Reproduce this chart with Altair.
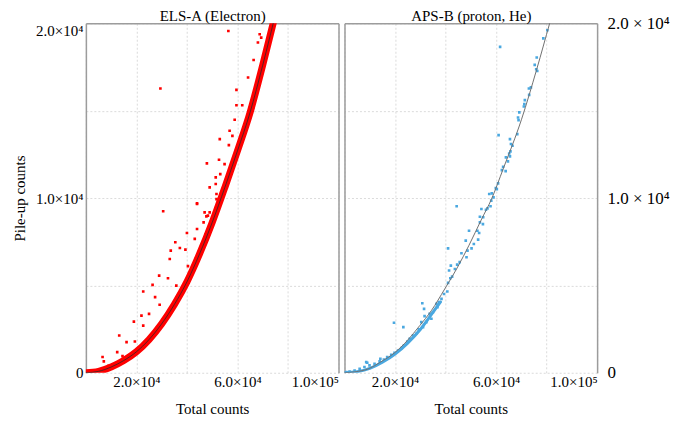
import altair as alt
import pandas as pd

FONT = "Liberation Serif"

# ---------------- axis ticks / labels ----------------
x_tick_values = [0, 20000, 40000, 60000, 80000, 100000]
x_tick_text = ["", "2.0×10⁴", "", "6.0×10⁴", "", "1.0×10⁵"]
y_tick_values = [0, 5000, 10000, 15000, 20000]
y_tick_text_left = ["0", "", "1.0×10⁴", "", "2.0×10⁴"]
y_tick_text_right = ["0", "", "1.0 × 10⁴", "", "2.0 × 10⁴"]

panel_titles = ["ELS-A (Electron)", "APS-B (proton, He)"]
x_title = "Total counts"
y_title = "Pile-up counts"

# ---------------- ELS-A (Electron) ----------------
els_curve_x = [0, 5000, 10000, 15000, 20000, 25000, 30000, 35000, 40000, 45000,
               50000, 55000, 60000, 65000, 70000, 75000, 78000]
els_curve_y = [0, 80, 330, 700, 1200, 1900, 2800, 3900, 5200, 6800,
               8600, 10600, 12700, 14900, 17600, 20500, 22300]

els_pts_x = [56400, 29500, 30600, 44000, 35400, 33600, 33200, 37200, 39400, 29000,
             32500, 26400, 27400, 22700, 22000, 25000, 19000, 22700, 13200, 16100,
             19400, 6600, 7100, 12400, 14500, 40000, 44000, 43100, 47700, 46600,
             49000, 51400, 51700, 40400, 29200, 35800, 66400, 68800, 68100, 69400,
             64200, 59600, 59600, 61900, 58900, 56900, 58000, 53000, 56600, 52700,
             47900, 54900, 51400, 53200, 44000, 49000, 51700, 47000, 48300,
             9000, 12000, 15500, 17500, 21000, 23500, 26000, 28000, 30500, 33000,
             35500, 37500, 39500, 41500, 43500, 45500, 47500, 49500, 51500, 53500,
             55500, 57500, 59500, 61500, 63500, 65500, 67500, 69500, 71500, 73000]
els_pts_y = [19560, 16270, 9240, 9700, 7470, 6990, 6510, 7140, 7050, 5560,
             5410, 5030, 4330, 4650, 3270, 3370, 2930, 2700, 2130, 1750,
             1790, 900, 650, 1180, 950, 8000, 8230, 7660, 8950, 8610,
             9180, 10800, 10230, 6100, 3890, 4990, 17900, 19370, 18900, 19180,
             16900, 16190, 15310, 15310, 14480, 13850, 13560, 13370, 13030, 12190,
             11980, 11940, 11180, 11370, 9660, 10610, 9940, 9180, 8990,
             400, 560, 840, 1030, 1430, 1790, 2180, 2540, 3030, 3600,
             4200, 4720, 5240, 5860, 6500, 7190, 7920, 8640, 9420, 10230,
             11030, 11880, 12720, 13600, 14480, 15400, 16500, 17580, 18750, 19620]

# ---------------- APS-B (proton, He) ----------------
aps_fit_x = [0, 4000, 9900, 14000, 19800, 24900, 29800, 34400, 39700, 44600,
             49300, 54300, 58200, 62800, 70100, 76100, 81300, 84000]
aps_fit_y = [0, 50, 250, 590, 1140, 1850, 2700, 3560, 4800, 6000,
             7300, 8800, 9940, 11660, 14510, 17370, 20040, 21400]

aps_band_x = [0, 5000, 10000, 15000, 20000, 25000, 30000, 35000, 38000]
aps_band_y = [0, 60, 250, 600, 1070, 1700, 2480, 3450, 4050]

aps_pts_x = [80300, 78700, 61600, 76100, 75300, 75900, 76300, 73000, 73800, 73100,
             71400, 71200, 71000, 69200, 68700, 68900, 61000, 68400, 65500, 65900,
             66500, 65700, 65200, 63900, 65500, 64700, 62800, 62300, 63800, 60800,
             59900, 60300, 57300, 58300, 59000, 44400, 58100, 56600, 57800, 54200,
             56000, 53600, 54900, 53600, 54800, 52600, 53300, 49300, 48000, 52900,
             51200, 50300, 48700, 41000, 46300, 48300, 45600, 44600, 42100, 43700,
             41400, 41900, 42600, 41000, 40700, 39400, 38400, 37400, 36400, 36800,
             30800, 31500, 35000, 33700, 34400, 31700, 32400, 30400, 31100, 29400,
             28400, 27100, 19600, 23300, 25800, 24900, 23500, 22500, 21200, 19800,
             18500, 16900, 15600, 13900, 11900, 9900, 9000, 7900, 6000, 4000,
             2000, 700, 8600, 14200]
aps_pts_y = [19600, 19140, 18650, 18040, 17620, 17370, 17270, 16270, 16330, 15900,
             15600, 15370, 15240, 14900, 14610, 14460, 13600, 13660, 13370, 13090,
             12990, 12670, 12550, 12330, 12380, 12100, 11790, 11600, 11540, 10840,
             10570, 10510, 10230, 10270, 10040, 9530, 9850, 9410, 9530, 9370,
             9330, 8930, 8900, 8610, 8510, 8130, 8000, 8130, 7560, 7620,
             7370, 7120, 6990, 7120, 6840, 6610, 6330, 6190, 6130, 5940,
             5850, 5410, 5500, 5140, 4650, 4510, 4230, 4040, 3940, 3750,
             3980, 3660, 3470, 3370, 3090, 3240, 2900, 2900, 2610, 2480,
             2230, 2130, 2860, 2610, 1940, 1790, 1560, 1410, 1270, 1140,
             1030, 900, 760, 650, 510, 420, 570, 330, 230, 130,
             70, 40, 610, 800]


def ternary(values, texts):
    expr = "''"
    for v, t in reversed(list(zip(values, texts))):
        expr = f"datum.value == {v} ? '{t}' : ({expr})"
    return expr


FRAME = "#9c9c9c"
GRID = dict(grid=True, gridColor="#d2d2d2", gridDash=[2, 2], gridWidth=0.8)
TOP_BASELINE = {"condition": {"test": "datum.value == 20000", "value": "top"},
                "value": "middle"}

x_scale = alt.Scale(domain=[0, 100000], nice=False, zero=False)
y_scale = alt.Scale(domain=[0, 20000], nice=False, zero=False)


def x_main_axis():
    return alt.Axis(values=x_tick_values, labelExpr=ternary(x_tick_values, x_tick_text),
                    title=x_title, domain=False, ticks=False, labelFont=FONT,
                    labelFontSize=15, labelColor="black", labelPadding=2,
                    labelOverlap=False, labelFlush=True, titleFont=FONT,
                    titleFontSize=15, titleFontWeight="normal", titleColor="black",
                    titlePadding=12, **GRID)


def y_main_axis(side):
    if side == "left":
        return alt.Axis(orient="left", values=y_tick_values,
                        labelExpr=ternary(y_tick_values, y_tick_text_left),
                        title=y_title, domain=True, domainColor=FRAME, domainWidth=1.5,
                        ticks=False, labelFont=FONT, labelFontSize=15, labelColor="black",
                        labelPadding=3, labelOverlap=False, labelFlush=False,
                        labelBaseline=TOP_BASELINE,
                        titleFont=FONT, titleFontSize=15, titleFontWeight="normal",
                        titleColor="black", titlePadding=8, **GRID)
    return alt.Axis(orient="right", values=y_tick_values,
                    labelExpr=ternary(y_tick_values, y_tick_text_right),
                    title=None, domain=True, domainColor=FRAME, domainWidth=1.5,
                    ticks=False, labelFont=FONT, labelFontSize=17, labelColor="black",
                    labelPadding=10, labelOverlap=False, labelFlush=False, **GRID)


def frame_axes(y_side, title):
    xa = alt.Axis(orient="top", labels=False, ticks=False, grid=False, domain=True,
                  domainColor=FRAME, domainWidth=1.5, title=title, titleFont=FONT,
                  titleFontSize=15, titleFontWeight="normal", titleColor="black",
                  titlePadding=0, minExtent=0, maxExtent=0)
    ya = alt.Axis(orient=y_side, labels=False, ticks=False, grid=False, domain=True,
                  domainColor=FRAME, domainWidth=1.5, title=None, minExtent=0, maxExtent=0)
    return xa, ya


def make_panel(title, pts_df, fit_df, band_df, pt_color, band_width, fit_color,
               fit_width, y_side):
    other = "right" if y_side == "left" else "left"
    fxa, fya = frame_axes(other, title)

    band = alt.Chart(band_df).mark_line(color=pt_color, strokeWidth=band_width,
                                        interpolate="monotone", clip=True,
                                        strokeCap="round").encode(
        x=alt.X("x:Q", scale=x_scale, axis=x_main_axis()),
        y=alt.Y("y:Q", scale=y_scale, axis=y_main_axis(y_side)),
    )
    pts = alt.Chart(pts_df).mark_point(shape="square", filled=True, size=7,
                                       color=pt_color, opacity=1, clip=True).encode(
        x=alt.X("x:Q", scale=x_scale, axis=None),
        y=alt.Y("y:Q", scale=y_scale, axis=None),
    )
    fit = alt.Chart(fit_df).mark_line(color=fit_color, strokeWidth=fit_width,
                                      interpolate="monotone", clip=True).encode(
        x=alt.X("x:Q", scale=x_scale, axis=fxa),
        y=alt.Y("y:Q", scale=y_scale, axis=fya),
    )
    return alt.layer(band, pts, fit).resolve_axis(x="independent", y="independent").properties(
        width=253, height=350,
    )


els_curve = pd.DataFrame({"x": els_curve_x, "y": els_curve_y})
els_pts = pd.DataFrame({"x": els_pts_x, "y": els_pts_y})
aps_fit = pd.DataFrame({"x": aps_fit_x, "y": aps_fit_y})
aps_band = pd.DataFrame({"x": aps_band_x, "y": aps_band_y})
aps_pts = pd.DataFrame({"x": aps_pts_x, "y": aps_pts_y})

left = make_panel(panel_titles[0], els_pts, els_curve, els_curve, "#ff0000", 7,
                  "#2a2a2a", 0.8, "left")
right = make_panel(panel_titles[1], aps_pts, aps_fit, aps_band, "#4aa8e0", 3,
                   "#707070", 1.0, "right")

chart = alt.hconcat(left, right, spacing=6, bounds="flush").properties(
    padding={"left": 4, "top": 0, "right": 0, "bottom": 0},
    background="white",
).configure_view(stroke=None)

chart.save("out.html", embed_options={"renderer": "svg", "actions": False})
